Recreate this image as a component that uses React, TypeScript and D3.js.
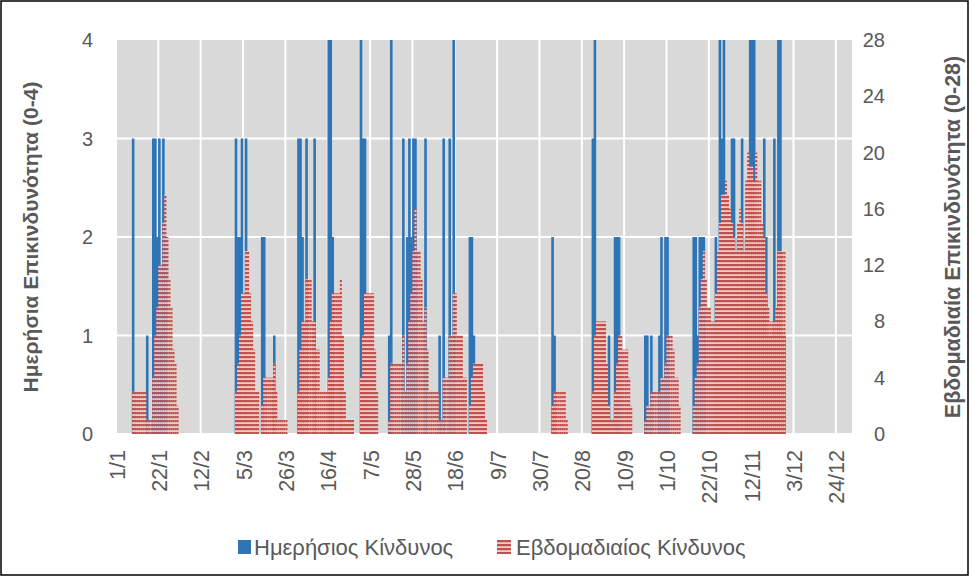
import React from 'react';
import * as d3 from 'd3';

const YEAR = 2017;

// Ημερήσιος Κίνδυνος (0-4): runs of consecutive days, [first day 'd/m', values]
const dailyRuns: [string, number[]][] = [
  ['9/1', [3, 0, 0, 0, 0, 0, 0, 1, 0, 0, 3, 3, 2, 3, 1, 3, 2]],
  ['1/3', [3, 2, 2, 3, 0, 3, 0, 0, 0, 0, 0, 0, 0, 2, 2, 0, 0, 0, 0, 1]],
  ['1/4', [3, 3, 2, 0, 3, 0, 0, 0, 3, 0, 0, 0, 0, 0, 0, 4, 4, 2, 0, 0, 0, 1]],
  ['2/5', [4, 3, 3]],
  ['16/5', [1, 4, 0, 0, 0, 0, 0, 3, 0, 2, 3, 2, 3, 3, 0, 0, 0, 0, 3]],
  ['10/6', [1, 0, 3, 0, 0, 3, 0, 4]],
  ['25/6', [2, 2, 1]],
  ['5/8', [2, 1]],
  ['25/8', [3, 4, 1, 0, 0, 0, 0, 0, 1, 0, 0, 2, 2, 2]],
  ['20/9', [1, 1, 0, 1, 0, 0, 0, 1, 2, 0, 2, 2]],
  ['14/10', [2, 2, 1, 2, 2, 2, 0, 0, 0, 0, 0, 2, 0, 4, 3, 4, 0, 0, 0, 3, 3, 0, 2, 0, 3, 0, 2, 2, 4, 4, 4,
    2, 2, 2, 2, 3, 2, 1, 1, 1, 3, 1, 4, 4, 1, 1]],
];

// Εβδομαδιαίος Κίνδυνος (0-28)
const weeklyRuns: [string, number[]][] = [
  ['9/1', [3, 3, 3, 3, 3, 3, 3, 1, 1, 1, 4, 7, 9, 12, 12, 15, 17, 14, 11, 9, 6, 5, 2]],
  ['1/3', [3, 5, 7, 10, 10, 13, 13, 10, 8, 6, 3, 3, 0, 2, 4, 4, 4, 4, 4, 5, 3, 1, 1, 1, 1, 1]],
  ['1/4', [3, 6, 8, 8, 11, 11, 11, 8, 8, 6, 6, 3, 3, 3, 3, 4, 8, 10, 10, 10, 10, 11, 7, 3, 1, 1, 1, 1, 0, 0,
    0, 4, 7, 10, 10, 10, 10, 10, 6, 3]],
  ['16/5', [1, 5, 5, 5, 5, 5, 5, 7, 3, 5, 8, 10, 13, 16, 13, 13, 11, 8, 9, 6, 3, 3, 3, 3, 3, 1, 1, 4, 4, 4,
    7, 7, 10, 10, 7, 7, 7, 4, 4, 0, 2, 4, 5, 5, 5, 5, 5, 3, 1]],
  ['5/8', [2, 3, 3, 3, 3, 3, 3, 1]],
  ['25/8', [3, 7, 8, 8, 8, 8, 8, 5, 2, 1, 1, 3, 5, 7, 7, 6, 6, 6, 4, 2]],
  ['20/9', [1, 2, 2, 3, 3, 3, 3, 3, 4, 4, 5, 7, 7, 7, 6, 4, 4, 2]],
  ['14/10', [2, 4, 5, 9, 11, 13, 11, 9, 9, 8, 8, 10, 13, 15, 17, 17, 18, 17, 16, 15, 14, 13, 15, 16, 15, 13,
    18, 20, 19, 19, 18, 20, 18, 18, 15, 14, 10, 9, 8, 8, 8, 9, 13, 13, 13, 13]],
];

const xTickLabels = ['1/1', '22/1', '12/2', '5/3', '26/3', '16/4', '7/5', '28/5', '18/6', '9/7', '30/7',
  '20/8', '10/9', '1/10', '22/10', '12/11', '3/12', '24/12'];
const leftTicks = [0, 1, 2, 3, 4];
const rightTicks = [0, 4, 8, 12, 16, 20, 24, 28];

const W = 970;
const H = 577;
const FONT = '"Liberation Sans", Arial, sans-serif';
const TXT = '#595959';
const BLUE = '#2e75b6';
const RED = '#c0504d';

const parseDM = (s: string) => {
  const [d, m] = s.split('/').map(Number);
  return new Date(YEAR, m - 1, d);
};

const expand = (runs: [string, number[]][]) =>
  runs.flatMap(([start, vals]) =>
    vals.map((v, i) => ({ date: d3.timeDay.offset(parseDM(start), i), value: v }))
  ).filter(p => p.value > 0);

const daily = expand(dailyRuns);
const weekly = expand(weeklyRuns);

const App: React.FC = () => {
  const margin = { top: 40, left: 116, right: 852, bottom: 434 };

  const x = d3.scaleTime()
    .domain([new Date(YEAR, 0, 1), new Date(YEAR + 1, 0, 1)])
    .range([margin.left, margin.right]);
  const yL = d3.scaleLinear().domain([0, 4]).range([margin.bottom, margin.top]);
  const yR = d3.scaleLinear().domain([0, 28]).range([margin.bottom, margin.top]);

  const slot = (d: Date) => [x(d), x(d3.timeDay.offset(d, 1))];
  const blueW = 2.6;

  return (
    <svg width={W} height={H} style={{ position: 'absolute', left: 0, top: 0, background: '#fff' }}
      fontFamily={FONT}>
      <defs>
        <pattern id="hatch" patternUnits="userSpaceOnUse" width="4" height="4">
          <rect width="4" height="4" fill="#f2c9c8" />
          <rect width="4" height="2.2" fill={RED} />
        </pattern>
      </defs>
      <rect x={1} y={1} width={W - 3} height={H - 3} fill="#fff" stroke="#000" strokeWidth={1.5} />

      {/* plot area */}
      <rect x={margin.left} y={margin.top} width={margin.right - margin.left}
        height={margin.bottom - margin.top} fill="#d9d9d9" />
      {leftTicks.slice(0, -1).map(t => (
        <line key={'h' + t} x1={margin.left} x2={margin.right} y1={yL(t)} y2={yL(t)}
          stroke="#fff" strokeWidth={2} />
      ))}
      {xTickLabels.map(t => (
        <line key={'v' + t} x1={x(parseDM(t))} x2={x(parseDM(t))} y1={margin.top} y2={margin.bottom}
          stroke="#fff" strokeWidth={2} />
      ))}

      {/* daily bars */}
      {daily.map((p, i) => {
        const [a, b] = slot(p.date);
        return <rect key={'d' + i} x={(a + b) / 2 - blueW / 2} width={blueW} y={yL(p.value)}
          height={yL(0) - yL(p.value)} fill={BLUE} />;
      })}
      {/* weekly bars */}
      {weekly.map((p, i) => {
        const [a, b] = slot(p.date);
        return <rect key={'w' + i} x={a} width={b - a + 0.05} y={yR(p.value)}
          height={yR(0) - yR(p.value)} fill="url(#hatch)" />;
      })}

      {/* axes labels */}
      {leftTicks.map(t => (
        <text key={'l' + t} x={93} y={yL(t)} dy="0.35em" textAnchor="end" fontSize={20} fill={TXT}>{t}</text>
      ))}
      {rightTicks.map(t => (
        <text key={'r' + t} x={885} y={yR(t)} dy="0.35em" textAnchor="end" fontSize={20} fill={TXT}>{t}</text>
      ))}
      {xTickLabels.map(t => (
        <text key={'x' + t} transform={`translate(${x(parseDM(t)) + 8.5},450) rotate(-90)`}
          textAnchor="end" fontSize={21.5} fill={TXT}>{t}</text>
      ))}
      <text transform="translate(38,237) rotate(-90)" textAnchor="middle" fontSize={21} fontWeight="bold"
        fill={TXT}>Ημερήσια Επικινδυνότητα (0-4)</text>
      <text transform="translate(960,237) rotate(-90)" textAnchor="middle" fontSize={21.5} fontWeight="bold"
        fill={TXT}>Εβδομαδιαία Επικινδυνότητα (0-28)</text>

      {/* legend */}
      <rect x={238} y={540} width={13} height={14} fill={BLUE} />
      <text x={254} y={555} fontSize={22} fill={TXT}>Ημερήσιος Κίνδυνος</text>
      <rect x={497} y={540} width={14} height={14} fill="url(#hatch)" />
      <text x={516} y={555} fontSize={22} fill={TXT}>Εβδομαδιαίος Κίνδυνος</text>
    </svg>
  );
};

export default App;
